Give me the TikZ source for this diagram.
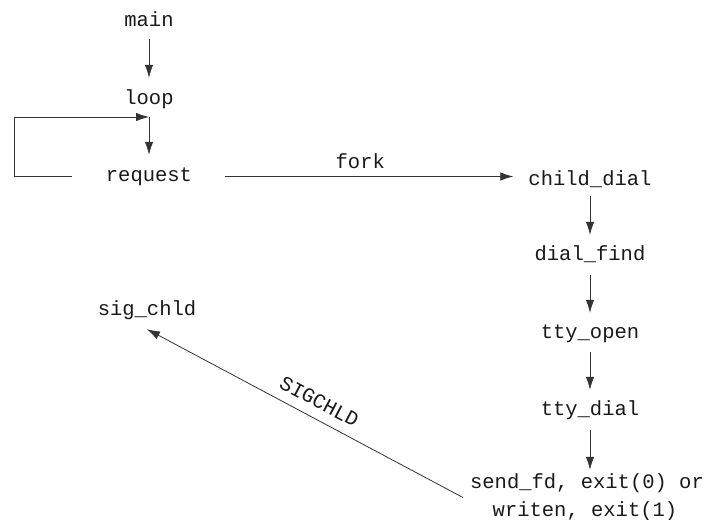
\documentclass[tikz,border=0pt]{standalone}
\usepackage{fontspec}
\setmonofont{Liberation Mono}
\usetikzlibrary{arrows.meta,calc}
\begin{document}
\begin{tikzpicture}[x=1pt,y=-1pt,
  lbl/.style={font=\ttfamily\fontsize{20.5}{24}\selectfont, text=black!90, inner sep=0pt, text height=13pt, text depth=4pt, anchor=base},
  tip/.style={Latex[length=13pt,width=8.5pt]},
  arr/.style={draw=black!80, line width=0.8pt, -{Latex[length=13pt,width=8.5pt]}, shorten <=10pt, shorten >=12pt},
  plain/.style={draw=black!80, line width=0.8pt}]
\useasboundingbox (0,0) rectangle (705,520);
\node[lbl] (main) at (149,26) {main};
\node[lbl] (loop) at (149,104) {loop};
\node[lbl] (request) at (149,181) {request};
\node[lbl] (child) at (590,185) {child\_dial};
\node[lbl] (find) at (590,260) {dial\_find};
\node[lbl] (open) at (590,338) {tty\_open};
\node[lbl] (dial) at (590,415) {tty\_dial};
\node[lbl] (send1) at (587,488) {send\_fd, exit(0) or};
\node[lbl] (send2) at (585,516) {writen, exit(1)};
\node[lbl] (sig) at (147,315) {sig\_chld};
\coordinate (j) at (149,117);
\coordinate (fbc) at (14,117);
% main column
\draw[arr, shorten <=9pt, shorten >=13pt] (main.south) -- (loop.north);
\draw[arr, shorten <=34pt, shorten >=0pt] (request.west) -| (fbc) -- (j);
\draw[arr, shorten <=0pt, shorten >=13pt] (j) -- (j |- request.north);
% fork
\draw[arr, shorten <=33pt, shorten >=15pt] (request.east) -- (request.east -| child.west)
  node[lbl, midway, anchor=south, yshift=4pt] (forklbl) {fork};
% child column
\draw[arr, shorten <=7pt] (child.south) -- (child.south |- find.north);
\draw[arr, shorten <=11pt] (find.south) -- (find.south |- open.north);
\draw[arr] (open.south) -- (open.south |- dial.north);
\draw[arr, shorten <=11pt, shorten >=5pt] (dial.south) -- (dial.south |- send1.north);
% SIGCHLD
\draw[plain, {Latex[length=13pt,width=8.5pt]}-] ($(sig.south)+(0,10)$) -- ($(send1.west)+(-7,14)$)
  node[lbl, pos=0.52, sloped, anchor=south, yshift=6pt] (siglbl) {SIGCHLD};
\end{tikzpicture}
\end{document}
